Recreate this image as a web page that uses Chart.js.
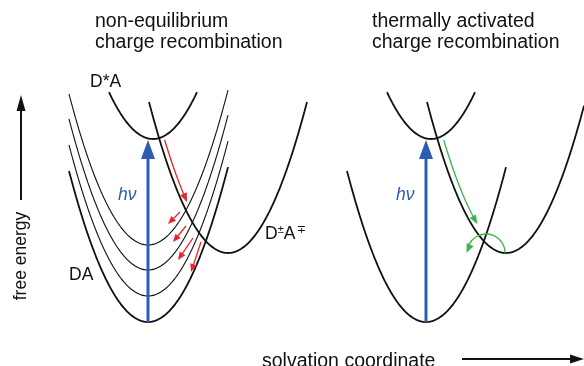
<!DOCTYPE html>
<html>
<head>
<meta charset="utf-8">
<script src="https://cdn.jsdelivr.net/npm/chart.js@4"></script>
<style>
  html, body { margin: 0; padding: 0; background: #fff; }
  canvas { display: block; }
</style>
</head>
<body>
<canvas id="myChart" width="584" height="366"></canvas>
<script>
// free-energy surfaces: vertex on the solvation coordinate, vertex energy, branch extents
var curveLabels = ['DA', 'D*A', 'D\u00b1A\u2213'];
var vertexX = [148, 153, 228];
var vertexE = [44, 227, 113];
var branchLeft = [79, 44, 79];
var branchRight = [80, 44, 79];
var curvature = 0.0242;

// partially relaxed ground-state surfaces (non-equilibrium panel only)
var relaxedE = [121, 96, 70];

// both panels use the same surfaces, moved along the coordinate
var panelShift = [0, 278];
var panelTitles = [['non-equilibrium', 'charge recombination'],
                   ['thermally activated', 'charge recombination']];

// excitation hv: DA minimum -> D*A minimum
var excitationE = [44, 226];

// red relaxation arrows, start and end
var redStartX = [180, 186, 193, 201];
var redStartE = [154, 140, 128, 124];
var redEndX = [168, 173, 178, 191];
var redEndE = [142, 124, 106, 94];

// arrows that slide down the D+A- surface (energy range)
var slideE = [[226, 163], [226, 141]];

function parabola(x0, e0, left, right) {
  var pts = [];
  for (var x = x0 - left; x <= x0 + right + 0.01; x += 1) {
    pts.push({x: x, y: e0 + curvature * (x - x0) * (x - x0)});
  }
  return pts;
}

// points along the left branch of D+A-, nudged to the right
function slidePath(shift, eTop, eBottom, offset) {
  var pts = [];
  var x0 = vertexX[2] + shift;
  for (var e = eTop; e >= eBottom; e -= 2) {
    var dx = Math.sqrt((e - vertexE[2]) / curvature);
    pts.push({x: x0 - dx + offset, y: e});
  }
  return pts;
}

var datasets = [];
panelShift.forEach(function (shift, p) {
  for (var i = 0; i < curveLabels.length; i++) {
    datasets.push({
      label: curveLabels[i],
      data: parabola(vertexX[i] + shift, vertexE[i], branchLeft[i], branchRight[i]),
      borderColor: '#111',
      borderWidth: 1.8
    });
  }
  if (p === 0) {
    relaxedE.forEach(function (e) {
      datasets.push({
        label: 'relaxed',
        data: parabola(vertexX[0], e, branchLeft[0], branchRight[0]),
        borderColor: '#111',
        borderWidth: 1.1
      });
    });
  }
});

function head(ctx, x, y, ang, len, half, color) {
  ctx.save();
  ctx.translate(x, y);
  ctx.rotate(ang);
  ctx.beginPath();
  ctx.moveTo(0, 0);
  ctx.lineTo(-len, -half);
  ctx.lineTo(-len, half);
  ctx.closePath();
  ctx.fillStyle = color;
  ctx.fill();
  ctx.restore();
}

function arrowLine(ctx, pts, color, width, len, half) {
  var a = pts[pts.length - 2], b = pts[pts.length - 1];
  var ang = Math.atan2(b.y - a.y, b.x - a.x);
  ctx.beginPath();
  pts.forEach(function (q, i) {
    var xx = q.x, yy = q.y;
    if (i === pts.length - 1) { xx -= Math.cos(ang) * len * 0.8; yy -= Math.sin(ang) * len * 0.8; }
    if (i === 0) ctx.moveTo(xx, yy); else ctx.lineTo(xx, yy);
  });
  ctx.strokeStyle = color;
  ctx.lineWidth = width;
  ctx.stroke();
  head(ctx, b.x, b.y, ang, len, half, color);
}

var annotations = {
  id: 'annotations',
  afterDatasetsDraw: function (chart) {
    var ctx = chart.ctx;
    var xs = chart.scales.x, ys = chart.scales.y;
    var px = function (v) { return xs.getPixelForValue(v); };
    var py = function (v) { return ys.getPixelForValue(v); };
    var blue = '#2d5cb4', red = '#e8262b', green = '#3bb54a';
    var sans = '"Liberation Sans", Arial, sans-serif';
    ctx.save();
    ctx.lineCap = 'butt';
    ctx.textAlign = 'left';
    ctx.textBaseline = 'alphabetic';

    panelShift.forEach(function (shift, p) {
      // excitation
      var ax = px(vertexX[0] + shift);
      arrowLine(ctx, [{x: ax, y: py(excitationE[0])}, {x: ax, y: py(excitationE[1])}], blue, 3, 19, 7);
      ctx.fillStyle = blue;
      ctx.font = 'italic 17.5px ' + sans;
      ctx.fillText('h\u03bd', ax - 30, 200);

      // slide down the charge-separated surface
      var path = slidePath(shift, slideE[p][0], slideE[p][1], p === 0 ? 5 : 6).map(function (q) {
        return {x: px(q.x), y: py(q.y)};
      });
      arrowLine(ctx, path, p === 0 ? red : green, 1.3, 9, 3.6);

      // titles
      ctx.fillStyle = '#111';
      ctx.font = '19.5px ' + sans;
      var tx = p === 0 ? 95 : 372;
      ctx.fillText(panelTitles[p][0], tx, 27);
      ctx.fillText(panelTitles[p][1], tx, 48);
    });

    // relaxation along the ground-state surfaces
    for (var i = 0; i < redStartX.length; i++) {
      arrowLine(ctx, [{x: px(redStartX[i]), y: py(redStartE[i])}, {x: px(redEndX[i]), y: py(redEndE[i])}],
        red, 1.3, 8, 3.4);
    }

    // thermal back-transfer over the barrier
    var cx = px(vertexX[2] + panelShift[1] - 20), cy = py(vertexE[2]);
    var r = 19, endA = -Math.PI * 0.93;
    ctx.beginPath();
    ctx.arc(cx, cy, r, 0, endA + 0.25, true);
    ctx.strokeStyle = green;
    ctx.lineWidth = 1.3;
    ctx.stroke();
    var ex = cx + r * Math.cos(endA + 0.55), ey = cy + r * Math.sin(endA + 0.55);
    var tipx = cx + r * Math.cos(endA) - 1, tipy = cy + r * Math.sin(endA) + 4;
    head(ctx, tipx, tipy, Math.atan2(tipy - ey, tipx - ex), 9, 3.8, green);

    // surface labels
    ctx.fillStyle = '#111';
    ctx.font = '17.5px ' + sans;
    ctx.fillText('D*A', 90, 87);
    ctx.fillText('DA', 69, 280);
    var lx = 265;
    var big = '17.5px ' + sans, small = '11px "Liberation Sans", "DejaVu Sans", sans-serif';
    [['D', big, 239], ['\u00b1', small, 233], ['A', big, 239], ['\u2213', small, 233]].forEach(function (s) {
      ctx.font = s[1];
      ctx.fillText(s[0], lx, s[2]);
      lx += ctx.measureText(s[0]).width + (s[0] === 'A' ? 1.5 : 0);
    });

    // axes
    ctx.strokeStyle = '#111';
    ctx.lineWidth = 2;
    ctx.beginPath();
    ctx.moveTo(21, 200);
    ctx.lineTo(21, 108);
    ctx.stroke();
    head(ctx, 21, 95, -Math.PI / 2, 16, 4.5, '#111');
    ctx.beginPath();
    ctx.moveTo(462, 359);
    ctx.lineTo(572, 359);
    ctx.stroke();
    head(ctx, 584, 359, 0, 14, 4.5, '#111');

    ctx.font = '19.5px ' + sans;
    ctx.fillText('solvation coordinate', 262, 367);
    ctx.save();
    ctx.translate(26, 256);
    ctx.rotate(-Math.PI / 2);
    ctx.textAlign = 'center';
    ctx.font = '17.5px ' + sans;
    ctx.fillText('free energy', 0, 0);
    ctx.restore();

    ctx.restore();
  }
};

var ctx = document.getElementById('myChart').getContext('2d');
var myChart = new Chart(ctx, {
  type: 'scatter',
  data: { datasets: datasets },
  options: {
    responsive: false,
    animation: false,
    devicePixelRatio: 1,
    layout: { padding: 0 },
    elements: {
      point: { radius: 0, hoverRadius: 0 },
      line: { tension: 0.3, fill: false, capBezierPoints: false }
    },
    datasets: { scatter: { showLine: true } },
    plugins: {
      legend: { display: false },
      tooltip: { enabled: false }
    },
    scales: {
      x: { type: 'linear', min: 0, max: 584, display: false },
      y: { type: 'linear', min: 0, max: 366, display: false }
    }
  },
  plugins: [annotations]
});
</script>
</body>
</html>
